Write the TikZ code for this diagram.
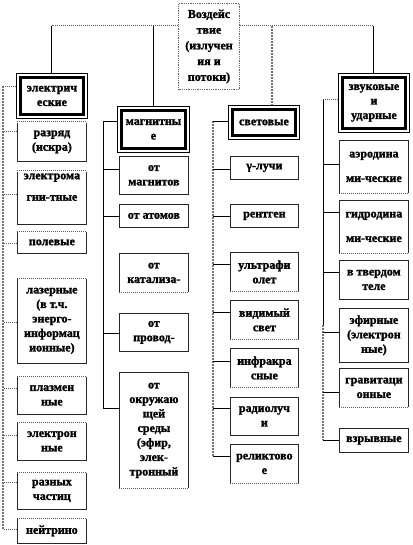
\documentclass[tikz,border=0pt]{standalone}
\usepackage{fontspec}
\setmainfont{Liberation Serif}[BoldFont={Liberation Serif Bold}]
\newfontfamily\boxfont{Liberation Serif Bold}[FakeBold=1.6]
\begin{document}
\begin{tikzpicture}[x=1pt,y=-1pt,
  cbox/.style={draw=black!85, line width=0.8pt, inner sep=0pt, align=center,
    font=\boxfont\fontsize{12}{14.5}\selectfont},
  mainbox/.style={cbox, draw=black, line width=0.9pt},
  topbox/.style={cbox, draw=black!60, densely dotted, line width=1pt, font=\boxfont\fontsize{12}{15.7}\selectfont},
  ln/.style={black, line width=1pt},
  dotb/.style={black!65, densely dotted, line width=1pt},
  dotbus/.style={black!55, densely dotted, line width=2pt}]
\newcommand\mybx[7][cbox]{\node[#1, anchor=north west, minimum width={(#5-#3)*1pt}, minimum height={(#6-#4)*1pt}] (#2) at (#3,#4) {#7};}
\newcommand\innerrect[1]{\draw[line width=2.6pt] ([shift={(4.5pt,-4.5pt)}]#1.north west) rectangle ([shift={(-4.5pt,4.5pt)}]#1.south east);}
\newcommand\stub[4][ln]{\draw[#1] ([yshift=#3pt]#2.west) -- ++(-#4,0);}
\newcommand\dtop[1]{\draw[white, line width=1.4pt] (#1.north west) -- (#1.north east); \draw[dotb] (#1.north west) -- (#1.north east);}
\newcommand\dbot[1]{\draw[white, line width=1.4pt] (#1.south west) -- (#1.south east); \draw[dotb] (#1.south west) -- (#1.south east);}

\fill[white] (0,0) rectangle (412,545);
\useasboundingbox (0,0) rectangle (412,545);

% top
\mybx[topbox]{top}{178}{3}{239}{89}{Воздейс\\твие\\(излучен\\ия и\\потоки)}

% main boxes
\mybx[mainbox]{elec}{16}{73}{87}{118}{электрич\\еские}
\mybx[mainbox]{mag}{117}{106}{189}{152}{магнитны\\е}
\mybx[mainbox]{light}{228}{105}{299}{139}{световые}
\mybx[mainbox]{sound}{338}{73}{409}{132}{звуковые\\и\\ударные}
\innerrect{elec}\innerrect{mag}\innerrect{light}\innerrect{sound}

% electric children
\mybx{razr}{17}{122}{86}{161}{разряд\\(искра)}
\mybx{emag}{17}{171}{86}{224}{электрома\\[7pt]гни-тные\\[7pt]\mbox{}}
\mybx{pole}{17}{231}{86}{253}{полевые}
\mybx{laser}{17}{278}{86}{363}{лазерные\\(в т.ч.\\энерго-\\информац\\ионные)}
\mybx{plasma}{17}{376}{86}{414}{плазмен\\ные}
\mybx{electron}{17}{422}{86}{460}{электрон\\ные}
\mybx{parts}{17}{472}{86}{509}{разных\\частиц}
\mybx{neutr}{17}{518}{86}{543}{нейтрино}
\dtop{razr}\dtop{emag}\dtop{pole}\dtop{laser}\dtop{plasma}\dtop{electron}\dtop{parts}\dtop{neutr}

% magnetic children
\mybx{m1}{119}{156}{188}{194}{от\\магнитов}
\mybx{m2}{119}{204}{188}{227}{от атомов}
\mybx{m3}{119}{253}{188}{292}{от\\катализа-}
\mybx{m4}{119}{313}{188}{351}{от\\провод-}
\mybx{m5}{119}{372}{188}{488}{от\\окружаю\\щей\\среды\\(эфир,\\элек-\\тронный}
\dbot{m3}\dbot{m5}

% light children
\mybx{l1}{230}{156}{298}{179}{γ-лучи}
\mybx{l2}{230}{204}{298}{227}{рентген}
\mybx{l3}{230}{252}{298}{291}{ультрафи\\олет}
\mybx{l4}{230}{300}{298}{339}{видимый\\свет}
\mybx{l5}{230}{348}{298}{387}{инфракра\\сные}
\mybx{l6}{230}{397}{298}{435}{радиолуч\\и}
\mybx{l7}{230}{444}{298}{483}{реликтово\\е}
\dbot{l3}\dbot{l4}\dbot{l5}\dbot{l7}

% sound children
\mybx{s1}{339}{140}{408}{193}{аэродина\\[10pt]ми-ческие}
\mybx{s2}{339}{200}{408}{253}{гидродина\\[10pt]ми-ческие}
\mybx{s3}{339}{260}{408}{299}{в твердом\\теле}
\mybx{s4}{339}{308}{408}{362}{эфирные\\(электрон\\ные)}
\mybx{s5}{339}{368}{408}{407}{гравитаци\\онные}
\mybx{s6}{339}{428}{408}{452}{взрывные}
\dbot{s1}\dbot{s2}\dbot{s5}

% top connectors
\coordinate (tl) at ([yshift=-23pt]top.north west);
\coordinate (tr) at ([yshift=-23pt]top.north east);
\coordinate (lj) at ([xshift=8.5pt]light.north);
\draw[dotb] (tl) -- (tl -| elec.north);
\draw[ln] (tl -| elec.north) -- (elec.north);
\draw[ln] (tl -| mag.north) -- (mag.north);
\draw[dotb] (tr) -- (tr -| sound.north);
\draw[ln] (tr -| sound.north) -- (sound.north);
\draw[dotbus] (tr -| lj) -- (lj);

% electric bus
\coordinate (eb1) at (3,86);
\coordinate (eb2) at (3,529);
\draw[dotbus] (eb1) -- (eb2);
\stub[dotb]{elec}{9.5}{13}
\stub[dotb]{razr}{10.5}{14}
\stub[dotb]{emag}{3.5}{14}
\stub[dotb]{pole}{-1}{14}
\stub[dotb]{laser}{-1.5}{14}
\stub[dotb]{plasma}{7}{14}
\stub[dotb]{electron}{6}{14}
\stub[dotb]{parts}{8.5}{14}
\stub[dotb]{neutr}{1.5}{14}

% magnetic bus
\coordinate (mb1) at (103,121);
\coordinate (mb2) at (103,408);
\draw[ln] (mb1) -- (mb2);
\stub{mag}{8}{14}
\stub{m1}{6}{16}
\stub{m2}{-0.5}{16}
\stub{m4}{-1}{16}
\stub{m5}{22}{16}

% light bus
\coordinate (lb1) at (213,121);
\coordinate (lb2) at (213,456);
\draw[dotbus] (lb1) -- (lb2);
\stub{light}{1}{15}
\stub{l1}{-1.5}{17}
\stub{l2}{-0.5}{17}
\stub{l3}{7.5}{17}
\stub{l4}{7.5}{17}
\stub{l5}{6.5}{17}
\stub{l6}{8}{17}
\stub{l7}{7.5}{17}

% sound bus
\coordinate (sb1) at (323,99);
\coordinate (sbm) at (323,325);
\coordinate (sb2) at (323,440);
\draw[ln] (sb1) -- (sbm);
\draw[dotbus] (sbm) -- (sb2);
\stub[dotb]{sound}{3.5}{15}
\stub{s1}{2.5}{16}
\stub{s2}{14.5}{16}
\stub{s3}{7.5}{16}
\stub{s4}{3}{16}
\stub{s5}{-4.5}{16}
\stub{s6}{0}{16}
\end{tikzpicture}
\end{document}
